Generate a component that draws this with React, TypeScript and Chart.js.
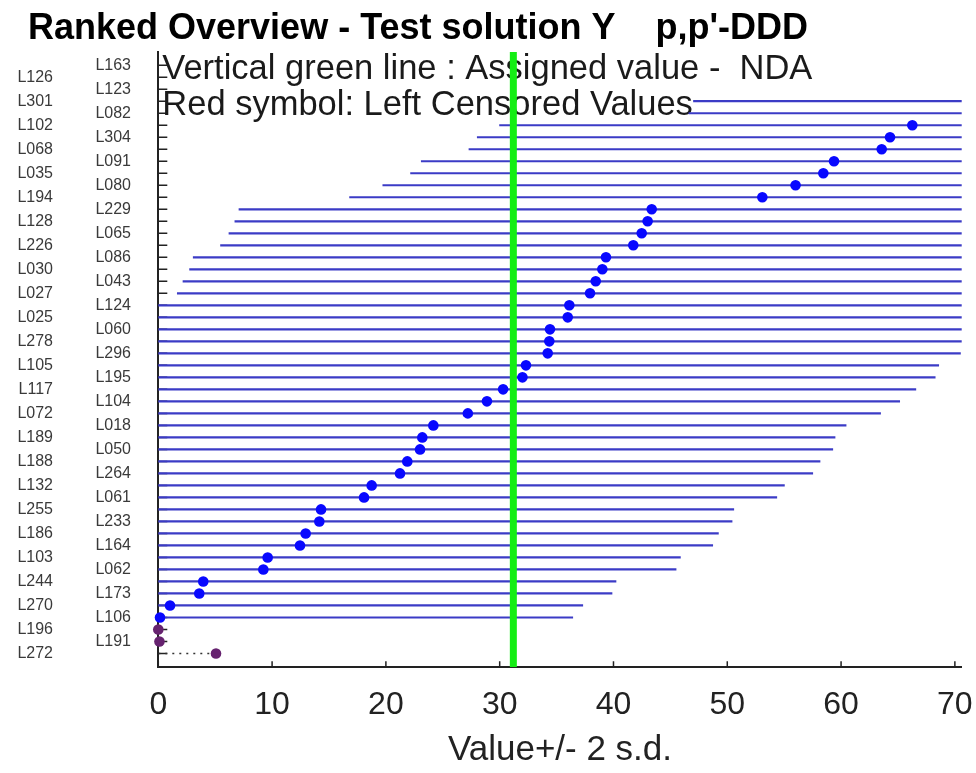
import React, { useEffect, useRef } from 'react';
import { Chart, registerables } from 'chart.js';

Chart.register(...registerables);

// ---------------- data ----------------
const chartTitle = "Ranked Overview - Test solution Y    p,p'-DDD";
const xAxisTitle = 'Value+/- 2 s.d.';
const noteLines = ['Vertical green line : Assigned value -  NDA', 'Red symbol: Left Censored Values'];

// ranked from highest (top) to lowest (bottom)
const labCodes = [
  'L163', 'L126', 'L123', 'L301', 'L082', 'L102', 'L304', 'L068', 'L091', 'L035',
  'L080', 'L194', 'L229', 'L128', 'L065', 'L226', 'L086', 'L030', 'L043', 'L027',
  'L124', 'L025', 'L060', 'L278', 'L296', 'L105', 'L195', 'L117', 'L104', 'L072',
  'L018', 'L189', 'L050', 'L188', 'L264', 'L132', 'L061', 'L255', 'L233', 'L186',
  'L164', 'L103', 'L062', 'L244', 'L173', 'L270', 'L106', 'L196', 'L191', 'L272',
];

const labValues = [
  125, 115, 110, 83.3, 82.9, 66.26, 64.3, 63.57, 59.38, 58.44,
  56.0, 53.08, 43.36, 43.0, 42.48, 41.74, 39.34, 39.02, 38.44, 37.94,
  36.12, 35.98, 34.42, 34.36, 34.22, 32.31, 32.0, 30.3, 28.88, 27.2,
  24.17, 23.2, 23.0, 21.88, 21.24, 18.75, 18.08, 14.3, 14.15, 12.95,
  12.45, 9.61, 9.23, 3.95, 3.6, 1.03, 0.15, 0.0, 0.1, 5.07,
];

const censoredLabs = ['L196', 'L191', 'L272'];
const assignedValue = 31.2;
const twoSd = 36.3;
const xTickValues = [0, 10, 20, 30, 40, 50, 60, 70];

// ---------------- style ----------------
const FONT = '"Liberation Sans", Arial, Helvetica, sans-serif';
const X_MIN = 0;
const X_MAX = 70.6;
const Y_MIN = -0.15;
const Y_MAX = 51.1;
const n = labCodes.length;
const rowOf = (i: number) => n - i;
const rows = labCodes.map((_, i) => rowOf(i));

function buildDatasets() {
  const ds: any[] = [];
  const dots: any[] = [];
  const cDots: any[] = [];
  labCodes.forEach((lab, i) => {
    const v = labValues[i];
    const r = rowOf(i);
    if (censoredLabs.includes(lab)) {
      ds.push({
        type: 'line',
        data: [{ x: X_MIN, y: r }, { x: v, y: r }],
        borderColor: '#333333',
        borderWidth: 1.6,
        borderDash: [2, 5],
        pointRadius: 0,
        order: 2,
      });
      cDots.push({ x: v, y: r });
    } else {
      ds.push({
        type: 'line',
        data: [{ x: v - twoSd, y: r }, { x: v + twoSd, y: r }],
        borderColor: '#3b3bc6',
        borderWidth: 2.2,
        pointRadius: 0,
        order: 2,
      });
      dots.push({ x: v, y: r });
    }
  });
  ds.push({
    type: 'line',
    data: [{ x: assignedValue, y: Y_MIN }, { x: assignedValue, y: Y_MAX }],
    borderColor: '#14ee14',
    borderWidth: 7,
    pointRadius: 0,
    order: 1,
  });
  ds.push({
    type: 'scatter',
    data: dots,
    pointRadius: 5.3,
    pointBackgroundColor: '#0808ff',
    pointBorderWidth: 0,
    pointBorderColor: '#0808ff',
    clip: { left: 8, top: 8, right: 0, bottom: 8 },
    order: 0,
  });
  ds.push({
    type: 'scatter',
    data: cDots,
    pointRadius: 5.3,
    pointBackgroundColor: '#66226f',
    pointBorderWidth: 0,
    pointBorderColor: '#66226f',
    clip: { left: 8, top: 8, right: 0, bottom: 8 },
    order: 0,
  });
  return ds;
}

const decorPlugin = {
  id: 'decor',
  beforeDatasetsDraw(chart: any) {
    const { ctx, chartArea } = chart;
    const xs = chart.scales.x;
    const ys = chart.scales.y;
    ctx.save();
    // inward tick marks
    ctx.strokeStyle = '#222222';
    ctx.lineWidth = 1.5;
    ctx.beginPath();
    xTickValues.forEach((t) => {
      const px = xs.getPixelForValue(t);
      ctx.moveTo(px, chartArea.bottom);
      ctx.lineTo(px, chartArea.bottom - 6);
    });
    rows.forEach((r) => {
      const py = ys.getPixelForValue(r);
      ctx.moveTo(chartArea.left, py);
      ctx.lineTo(chartArea.left + 9, py);
    });
    ctx.stroke();
    // chart title
    ctx.font = `bold 36px ${FONT}`;
    ctx.fillStyle = '#000000';
    ctx.textAlign = 'left';
    ctx.textBaseline = 'middle';
    ctx.fillText(chartTitle, 28, 29);
    // annotation text
    ctx.font = `34.5px ${FONT}`;
    ctx.fillStyle = '#1a1a1a';
    ctx.textBaseline = 'alphabetic';
    ctx.fillText(noteLines[0], chartArea.left + 4, chartArea.top + 26.8);
    ctx.fillText(noteLines[1], chartArea.left + 4, chartArea.top + 63);
    ctx.restore();
  },
};

const rowLabel = (value: number, parity: number) => {
  const i = Math.round(n - value);
  if (i < 0 || i >= n) return '';
  return i % 2 === parity ? labCodes[i] : '';
};

const yTickFont = { family: FONT, size: 16 };

export default function App() {
  const ref = useRef<HTMLCanvasElement>(null);
  useEffect(() => {
    document.body.style.margin = '0';
    const chart = new Chart(ref.current as HTMLCanvasElement, {
      type: 'scatter',
      data: { datasets: buildDatasets() },
      options: {
        responsive: false,
        animation: false,
        devicePixelRatio: 1,
        layout: { padding: { left: 0, right: 14.3, top: 52, bottom: 0 } },
        plugins: {
          legend: { display: false },
          tooltip: { enabled: false },
          title: { display: false },
        },
        scales: {
          x: {
            type: 'linear',
            position: 'bottom',
            min: X_MIN,
            max: X_MAX,
            afterBuildTicks: (s: any) => {
              s.ticks = xTickValues.map((v) => ({ value: v }));
            },
            afterFit: (s: any) => {
              s.height = 105.7;
              s.paddingLeft = 0;
              s.paddingRight = 0;
            },
            grid: { display: false, drawTicks: false },
            border: { display: true, color: '#222222', width: 2 },
            ticks: {
              autoSkip: false,
              maxRotation: 0,
              padding: 18.5,
              color: '#222222',
              font: { family: FONT, size: 32 },
            },
            title: {
              display: true,
              text: xAxisTitle,
              color: '#222222',
              font: { family: FONT, size: 35 },
              padding: { top: 0, bottom: 1.6 },
            },
          },
          y: {
            type: 'linear',
            position: 'left',
            weight: 0,
            min: Y_MIN,
            max: Y_MAX,
            afterBuildTicks: (s: any) => {
              s.ticks = rows.map((v) => ({ value: v }));
            },
            afterFit: (s: any) => {
              s.width = 88.3;
              s.paddingTop = 0;
              s.paddingBottom = 0;
            },
            grid: { display: false, drawTicks: false },
            border: { display: true, color: '#222222', width: 2 },
            ticks: {
              autoSkip: false,
              padding: 27.3,
              color: '#3a3a3a',
              font: yTickFont,
              callback: (v: any) => rowLabel(Number(v), 0),
            },
          },
          yL: {
            type: 'linear',
            position: 'left',
            weight: 1,
            min: Y_MIN,
            max: Y_MAX,
            afterBuildTicks: (s: any) => {
              s.ticks = rows.map((v) => ({ value: v }));
            },
            afterFit: (s: any) => {
              s.width = 70;
              s.paddingTop = 0;
              s.paddingBottom = 0;
            },
            grid: { display: false, drawTicks: false },
            border: { display: false },
            ticks: {
              autoSkip: false,
              padding: 17,
              color: '#3a3a3a',
              font: yTickFont,
              callback: (v: any) => rowLabel(Number(v), 1),
            },
          },
        },
      } as any,
      plugins: [decorPlugin],
    } as any);
    return () => chart.destroy();
  }, []);
  return (
    <div style={{ width: 976, height: 773 }}>
      <canvas ref={ref} width={976} height={773} style={{ display: 'block' }} />
    </div>
  );
}
